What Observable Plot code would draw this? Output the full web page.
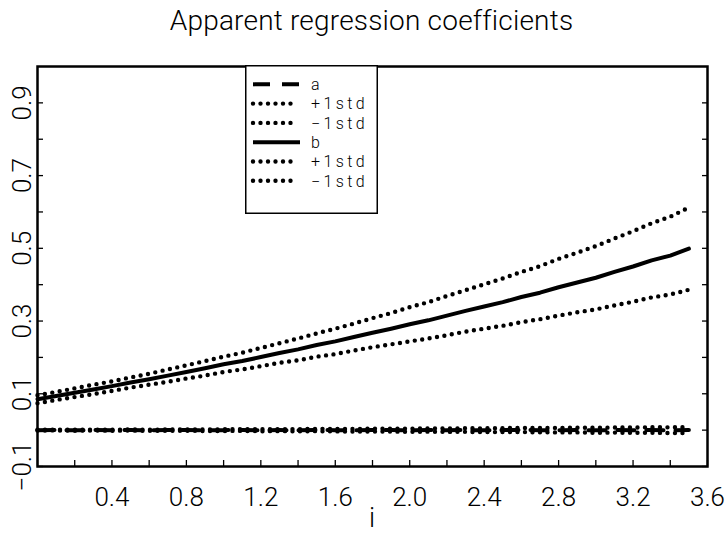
<!DOCTYPE html>
<html>
<head>
<meta charset="utf-8">
<script src="https://cdn.jsdelivr.net/npm/d3@7"></script>
<script src="https://cdn.jsdelivr.net/npm/@observablehq/plot@0.6"></script>
<style>
  body { margin: 0; background: #fff; }
  #wrap { position: relative; width: 725px; height: 536px; overflow: hidden; font-family: Roboto, "DejaVu Sans", sans-serif; font-weight: 300; color: #000; }
  #title { position: absolute; left: 0; top: 7px; width: 743px; text-align: center; font-size: 28px; line-height: 28px; letter-spacing: 0.2px; }
  #chart { position: absolute; left: 0; top: 40px; }
  #xlabel { position: absolute; left: 0; top: 505px; width: 744px; text-align: center; font-size: 27px; line-height: 27px; }
  #legend { position: absolute; left: 245px; top: 65px; }
</style>
</head>
<body>
<div id="wrap">
  <div id="title">Apparent regression coefficients</div>
  <div id="chart"></div>
  <div id="xlabel">i</div>
  <div id="legend"></div>
</div>
<script>
// Sample positions along i
const iValues = [0.0, 0.1, 0.2, 0.3, 0.4, 0.5, 0.6, 0.7, 0.8, 0.9,
                 1.0, 1.1, 1.2, 1.3, 1.4, 1.5, 1.6, 1.7, 1.8, 1.9,
                 2.0, 2.1, 2.2, 2.3, 2.4, 2.5, 2.6, 2.7, 2.8, 2.9,
                 3.0, 3.1, 3.2, 3.3, 3.4, 3.5];

// Coefficient a and its standard deviation
const aCoef = [0.0000, 0.0004, -0.0003, 0.0002, -0.0001, 0.0003, -0.0004, 0.0001, 0.0002, -0.0002,
               0.0000, 0.0003, -0.0003, 0.0001, -0.0002, 0.0004, 0.0000, -0.0003, 0.0002, 0.0001,
               -0.0004, 0.0003, -0.0001, 0.0002, -0.0003, 0.0001, 0.0004, -0.0002, 0.0000, 0.0003,
               -0.0004, 0.0002, -0.0001, 0.0003, -0.0002, 0.0001];
const aStd = [0.0010, 0.0011, 0.0012, 0.0013, 0.0014, 0.0015, 0.0016, 0.0018, 0.0019, 0.0021,
              0.0022, 0.0024, 0.0026, 0.0028, 0.0030, 0.0032, 0.0034, 0.0036, 0.0038, 0.0040,
              0.0042, 0.0044, 0.0047, 0.0049, 0.0052, 0.0054, 0.0057, 0.0059, 0.0062, 0.0065,
              0.0068, 0.0070, 0.0073, 0.0076, 0.0079, 0.0082];

// Coefficient b and its standard deviation
const bCoef = [0.085, 0.094, 0.103, 0.112, 0.121, 0.131, 0.140, 0.150, 0.160, 0.170,
               0.181, 0.190, 0.201, 0.212, 0.222, 0.234, 0.244, 0.256, 0.268, 0.279,
               0.291, 0.302, 0.315, 0.328, 0.340, 0.352, 0.366, 0.378, 0.393, 0.406,
               0.419, 0.435, 0.450, 0.467, 0.480, 0.499];
const bStd = [0.011, 0.011, 0.012, 0.013, 0.013, 0.014, 0.015, 0.017, 0.018, 0.020,
              0.021, 0.023, 0.025, 0.027, 0.030, 0.032, 0.035, 0.037, 0.040, 0.043,
              0.047, 0.050, 0.054, 0.057, 0.061, 0.065, 0.069, 0.073, 0.078, 0.082,
              0.087, 0.092, 0.097, 0.102, 0.107, 0.113];

// Axis ticks and labels
const xTicks = [0, 0.2, 0.4, 0.6, 0.8, 1.0, 1.2, 1.4, 1.6, 1.8, 2.0, 2.2, 2.4, 2.6, 2.8, 3.0, 3.2, 3.4, 3.6];
const xLabels = [0.4, 0.8, 1.2, 1.6, 2.0, 2.4, 2.8, 3.2, 3.6];
const yTicks = [-0.1, 0.0, 0.1, 0.2, 0.3, 0.4, 0.5, 0.6, 0.7, 0.8, 0.9];
const yLabels = [-0.1, 0.1, 0.3, 0.5, 0.7, 0.9];

// Legend entries
const legendLabels = ["a", "+1std", "\u22121std", "b", "+1std", "\u22121std"];
const legendStyles = ["dash", "dot", "dot", "solid", "dot", "dot"];

const rows = iValues.map((i, k) => ({
  i,
  a: aCoef[k], aHi: aCoef[k] + aStd[k], aLo: aCoef[k] - aStd[k],
  b: bCoef[k], bHi: bCoef[k] + bStd[k], bLo: bCoef[k] - bStd[k]
}));

const fmt = d => (d < 0 ? "\u2212" : "") + Math.abs(d).toFixed(1);
const dotted = {stroke: "#000", strokeWidth: 4.4, strokeDasharray: "0 7.5", strokeLinecap: "round"};

const chart = Plot.plot({
  width: 725,
  height: 496,
  marginTop: 26,
  marginBottom: 70,
  marginLeft: 37,
  marginRight: 18,
  x: {domain: [0, 3.6]},
  y: {domain: [-0.1, 1.0]},
  style: {fontFamily: "Roboto, 'DejaVu Sans', sans-serif", fontSize: "26px", fontWeight: 300, color: "#000", background: "#fff", overflow: "visible"},
  marks: [
    Plot.line(rows, {x: "i", y: "aHi", ...dotted}),
    Plot.line(rows, {x: "i", y: "aLo", ...dotted}),
    Plot.line(rows, {x: "i", y: "a", stroke: "#000", strokeWidth: 4, strokeDasharray: "17 12"}),
    Plot.line(rows, {x: "i", y: "bHi", ...dotted}),
    Plot.line(rows, {x: "i", y: "bLo", ...dotted}),
    Plot.line(rows, {x: "i", y: "b", stroke: "#000", strokeWidth: 4}),
    Plot.axisX(xTicks, {tickSize: -6, tickFormat: () => "", label: null, strokeWidth: 1.3}),
    Plot.axisX(xLabels, {tickSize: 0, tickPadding: 21, tickFormat: fmt, label: null, letterSpacing: 1}),
    Plot.axisY(yTicks, {anchor: "left", tickSize: -6, tickFormat: () => "", label: null, strokeWidth: 1.3}),
    Plot.axisY(yTicks, {anchor: "right", tickSize: -6, tickFormat: () => "", label: null, strokeWidth: 1.3}),
    Plot.axisY(yLabels, {anchor: "left", tickSize: 0, tickPadding: 7, tickRotate: -90, textAnchor: "middle", lineAnchor: "bottom", tickFormat: fmt, label: null}),
    Plot.frame({stroke: "#000", strokeWidth: 2.5})
  ]
});
document.getElementById("chart").appendChild(chart);

// Legend box with line samples
const lw = 133, lh = 149, rowGap = 19.3;
const lg = d3.select("#legend").append("svg")
  .attr("width", lw).attr("height", lh)
  .style("overflow", "visible");
lg.append("rect").attr("x", 0.75).attr("y", 0.75).attr("width", lw - 1.5).attr("height", lh - 1.5)
  .attr("fill", "#fff").attr("stroke", "#000").attr("stroke-width", 1.5);
legendLabels.forEach((label, k) => {
  const y = rowGap * (k + 1);
  const style = legendStyles[k];
  const ln = lg.append("line").attr("x1", 8).attr("x2", style === "dot" ? 53 : 55)
    .attr("y1", y).attr("y2", y).attr("stroke", "#000").attr("stroke-width", 4);
  if (style === "dot") ln.attr("stroke-dasharray", "0 7.5").attr("stroke-linecap", "round").attr("stroke-width", 4.4);
  if (style === "dash") ln.attr("stroke-dasharray", "17 12");
  lg.append("text").attr("x", 66).attr("y", y).attr("dy", "0.36em")
    .attr("font-size", 16).attr("letter-spacing", 3.4).attr("font-weight", 300)
    .attr("font-family", "Roboto, 'DejaVu Sans', sans-serif")
    .text(label);
});
</script>
</body>
</html>
